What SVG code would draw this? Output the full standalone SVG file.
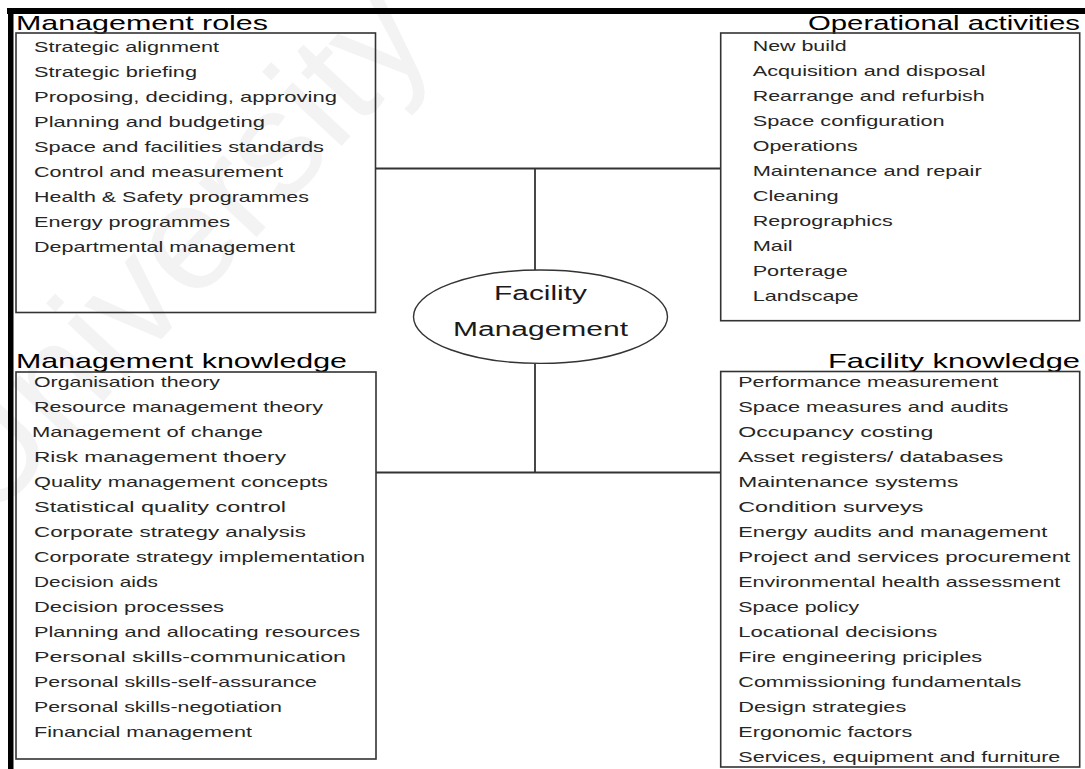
<svg xmlns="http://www.w3.org/2000/svg" width="1085" height="769" viewBox="0 0 1085 769">
  <style>
    .title { font-family: "Liberation Sans", Arial, sans-serif; font-size: 21px; fill: #000; }
    .item { font-family: "Liberation Sans", Arial, sans-serif; font-size: 15px; fill: #262626; }
    .centre { font-family: "Liberation Sans", Arial, sans-serif; font-size: 20px; fill: #1a1a1a; text-anchor: middle; }
    .box { fill: none; stroke: #333; stroke-width: 1.6; }
    .link { fill: none; stroke: #333; stroke-width: 1.8; }
    .mark { font-family: "Liberation Sans", Arial, sans-serif; font-size: 150px; fill: #f3f3f3; }
  </style>
  <rect width="1085" height="769" fill="#fff"/>

  <!-- faint background watermark -->
  <text class="mark" transform="translate(-12 525) rotate(-47)">University of Cape Town</text>

  <!-- heavy frame along top and left edges -->
  <g id="frame">
    <rect x="7" y="8" width="1078" height="6" fill="#000"/>
    <rect x="8" y="8" width="5.5" height="761" fill="#000"/>
  </g>

  <!-- connectors between the central ellipse and the four lists -->
  <g id="connectors">
    <line class="link" x1="375" y1="168.5" x2="721" y2="168.5"/>
    <line class="link" x1="535" y1="168.5" x2="535" y2="270"/>
    <line class="link" x1="535" y1="363.5" x2="535" y2="472.5"/>
    <line class="link" x1="376" y1="472.5" x2="721" y2="472.5"/>
  </g>

  <!-- Management roles -->
  <g id="management-roles">
    <text class="title" x="16" y="30" textLength="252" lengthAdjust="spacingAndGlyphs">Management roles</text>
    <rect class="box" x="16" y="33" width="359.5" height="279.5"/>
    <text class="item" x="34" y="51.7" textLength="185" lengthAdjust="spacingAndGlyphs">Strategic alignment</text>
    <text class="item" x="34" y="76.7" textLength="163" lengthAdjust="spacingAndGlyphs">Strategic briefing</text>
    <text class="item" x="34" y="101.7" textLength="303" lengthAdjust="spacingAndGlyphs">Proposing, deciding, approving</text>
    <text class="item" x="34" y="126.7" textLength="231" lengthAdjust="spacingAndGlyphs">Planning and budgeting</text>
    <text class="item" x="34" y="151.7" textLength="290" lengthAdjust="spacingAndGlyphs">Space and facilities standards</text>
    <text class="item" x="34" y="176.7" textLength="249" lengthAdjust="spacingAndGlyphs">Control and measurement</text>
    <text class="item" x="34" y="201.7" textLength="275" lengthAdjust="spacingAndGlyphs">Health &amp; Safety programmes</text>
    <text class="item" x="34" y="226.7" textLength="196" lengthAdjust="spacingAndGlyphs">Energy programmes</text>
    <text class="item" x="34" y="251.7" textLength="261" lengthAdjust="spacingAndGlyphs">Departmental management</text>
  </g>

  <!-- Operational activities -->
  <g id="operational-activities">
    <text class="title" x="1080" y="29.5" text-anchor="end" textLength="272" lengthAdjust="spacingAndGlyphs">Operational activities</text>
    <rect class="box" x="720.7" y="33" width="359" height="287.7"/>
    <text class="item" x="752.7" y="50.5" textLength="94" lengthAdjust="spacingAndGlyphs">New build</text>
    <text class="item" x="752.7" y="75.5" textLength="233" lengthAdjust="spacingAndGlyphs">Acquisition and disposal</text>
    <text class="item" x="752.7" y="100.5" textLength="232" lengthAdjust="spacingAndGlyphs">Rearrange and refurbish</text>
    <text class="item" x="752.7" y="125.5" textLength="192" lengthAdjust="spacingAndGlyphs">Space configuration</text>
    <text class="item" x="752.7" y="150.5" textLength="105" lengthAdjust="spacingAndGlyphs">Operations</text>
    <text class="item" x="752.7" y="175.5" textLength="229" lengthAdjust="spacingAndGlyphs">Maintenance and repair</text>
    <text class="item" x="752.7" y="200.5" textLength="86" lengthAdjust="spacingAndGlyphs">Cleaning</text>
    <text class="item" x="752.7" y="225.5" textLength="140" lengthAdjust="spacingAndGlyphs">Reprographics</text>
    <text class="item" x="752.7" y="250.5" textLength="40" lengthAdjust="spacingAndGlyphs">Mail</text>
    <text class="item" x="752.7" y="275.5" textLength="95" lengthAdjust="spacingAndGlyphs">Porterage</text>
    <text class="item" x="752.7" y="300.5" textLength="106" lengthAdjust="spacingAndGlyphs">Landscape</text>
  </g>

  <!-- Facility Management (centre) -->
  <g id="facility-management">
    <ellipse cx="540.5" cy="316.7" rx="127" ry="46.7" fill="#fff" stroke="#333" stroke-width="1.4"/>
    <text class="centre" x="540.5" y="300" textLength="93" lengthAdjust="spacingAndGlyphs">Facility</text>
    <text class="centre" x="540.5" y="335.7" textLength="175" lengthAdjust="spacingAndGlyphs">Management</text>
  </g>

  <!-- Management knowledge -->
  <g id="management-knowledge">
    <text class="title" x="16" y="368" textLength="331" lengthAdjust="spacingAndGlyphs">Management knowledge</text>
    <rect class="box" x="16" y="372" width="360" height="387"/>
    <text class="item" x="34" y="386.7" textLength="186" lengthAdjust="spacingAndGlyphs">Organisation theory</text>
    <text class="item" x="34" y="411.7" textLength="289" lengthAdjust="spacingAndGlyphs">Resource management theory</text>
    <text class="item" x="32" y="436.7" textLength="231" lengthAdjust="spacingAndGlyphs">Management of change</text>
    <text class="item" x="34" y="461.7" textLength="252" lengthAdjust="spacingAndGlyphs">Risk management thoery</text>
    <text class="item" x="34" y="486.7" textLength="294" lengthAdjust="spacingAndGlyphs">Quality management concepts</text>
    <text class="item" x="34" y="511.7" textLength="252" lengthAdjust="spacingAndGlyphs">Statistical quality control</text>
    <text class="item" x="34" y="536.7" textLength="272" lengthAdjust="spacingAndGlyphs">Corporate strategy analysis</text>
    <text class="item" x="34" y="561.7" textLength="331" lengthAdjust="spacingAndGlyphs">Corporate strategy implementation</text>
    <text class="item" x="34" y="586.7" textLength="124" lengthAdjust="spacingAndGlyphs">Decision aids</text>
    <text class="item" x="34" y="611.7" textLength="190" lengthAdjust="spacingAndGlyphs">Decision processes</text>
    <text class="item" x="34" y="636.7" textLength="326" lengthAdjust="spacingAndGlyphs">Planning and allocating resources</text>
    <text class="item" x="34" y="661.7" textLength="312" lengthAdjust="spacingAndGlyphs">Personal skills-communication</text>
    <text class="item" x="34" y="686.7" textLength="283" lengthAdjust="spacingAndGlyphs">Personal skills-self-assurance</text>
    <text class="item" x="34" y="711.7" textLength="248" lengthAdjust="spacingAndGlyphs">Personal skills-negotiation</text>
    <text class="item" x="34" y="736.7" textLength="218" lengthAdjust="spacingAndGlyphs">Financial management</text>
  </g>

  <!-- Facility knowledge -->
  <g id="facility-knowledge">
    <text class="title" x="1080" y="368" text-anchor="end" textLength="252" lengthAdjust="spacingAndGlyphs">Facility knowledge</text>
    <rect class="box" x="720.7" y="371.5" width="359" height="395.5"/>
    <text class="item" x="738.3" y="387" textLength="260" lengthAdjust="spacingAndGlyphs">Performance measurement</text>
    <text class="item" x="738.3" y="412" textLength="270" lengthAdjust="spacingAndGlyphs">Space measures and audits</text>
    <text class="item" x="738.3" y="437" textLength="195" lengthAdjust="spacingAndGlyphs">Occupancy costing</text>
    <text class="item" x="738.3" y="462" textLength="265" lengthAdjust="spacingAndGlyphs">Asset registers/ databases</text>
    <text class="item" x="738.3" y="487" textLength="220" lengthAdjust="spacingAndGlyphs">Maintenance systems</text>
    <text class="item" x="738.3" y="512" textLength="185" lengthAdjust="spacingAndGlyphs">Condition surveys</text>
    <text class="item" x="738.3" y="537" textLength="309" lengthAdjust="spacingAndGlyphs">Energy audits and management</text>
    <text class="item" x="738.3" y="562" textLength="332" lengthAdjust="spacingAndGlyphs">Project  and services procurement</text>
    <text class="item" x="738.3" y="587" textLength="322" lengthAdjust="spacingAndGlyphs">Environmental health assessment</text>
    <text class="item" x="738.3" y="612" textLength="121" lengthAdjust="spacingAndGlyphs">Space policy</text>
    <text class="item" x="738.3" y="637" textLength="199" lengthAdjust="spacingAndGlyphs">Locational decisions</text>
    <text class="item" x="738.3" y="662" textLength="244" lengthAdjust="spacingAndGlyphs">Fire engineering priciples</text>
    <text class="item" x="738.3" y="687" textLength="283" lengthAdjust="spacingAndGlyphs">Commissioning fundamentals</text>
    <text class="item" x="738.3" y="712" textLength="168" lengthAdjust="spacingAndGlyphs">Design strategies</text>
    <text class="item" x="738.3" y="737" textLength="174" lengthAdjust="spacingAndGlyphs">Ergonomic factors</text>
    <text class="item" x="738.3" y="762" textLength="322" lengthAdjust="spacingAndGlyphs">Services, equipment and furniture</text>
  </g>
</svg>
